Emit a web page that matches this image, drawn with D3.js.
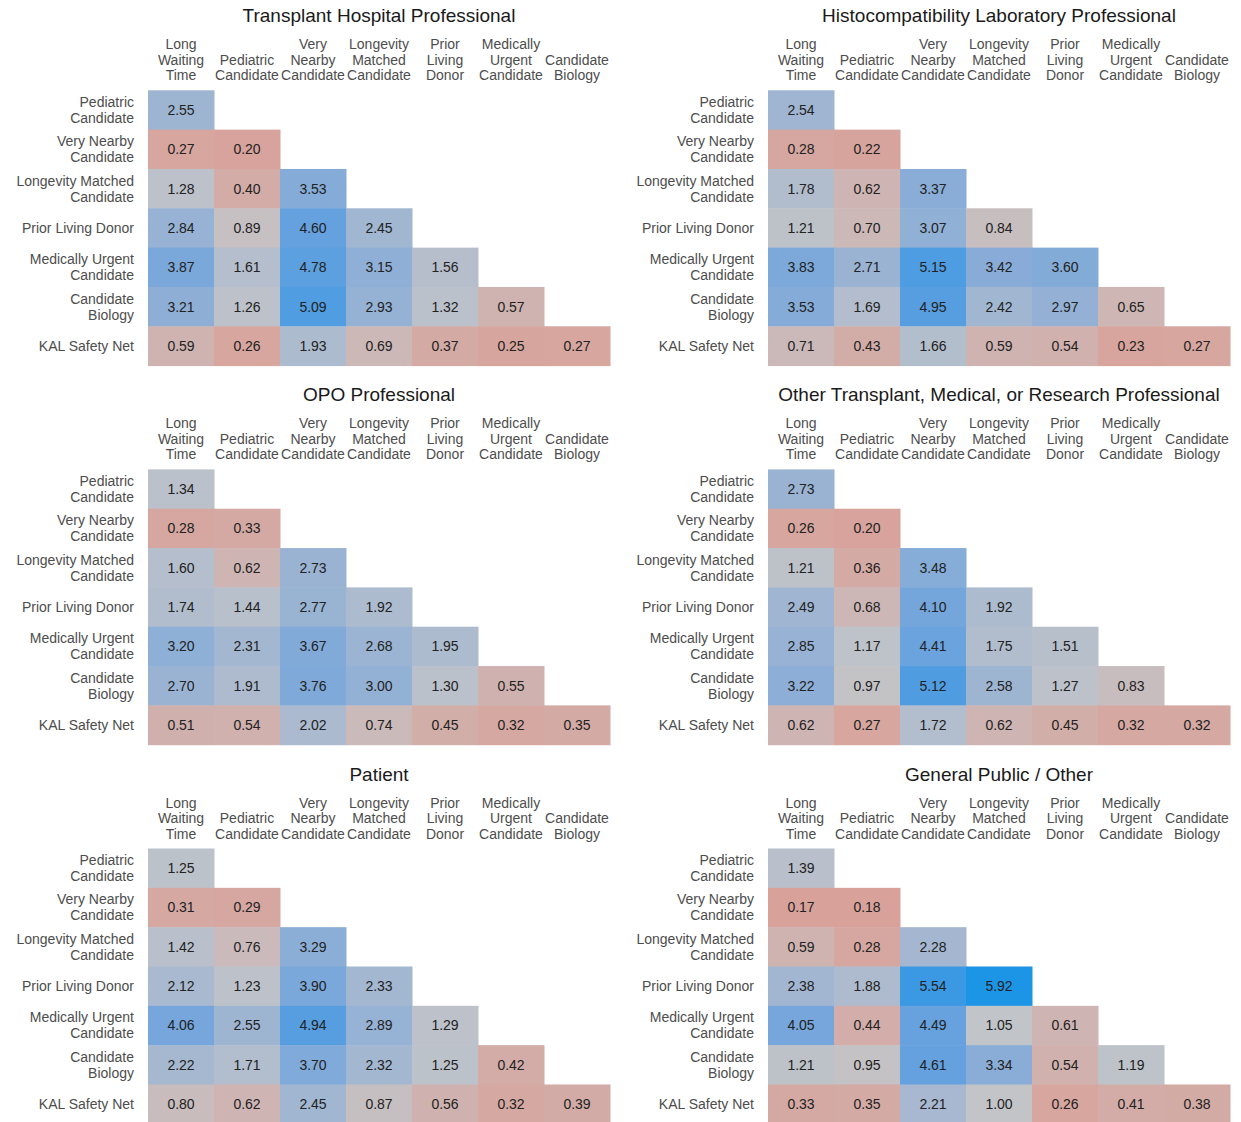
<!DOCTYPE html>
<html>
<head>
<meta charset="utf-8">
<script src="https://cdn.jsdelivr.net/npm/d3@7"></script>
<style>
  html, body { margin: 0; padding: 0; background: #ffffff; }
  svg { display: block; }
  text { font-family: "Liberation Sans", Arial, Helvetica, sans-serif; }
</style>
</head>
<body>
<svg id="chart" width="1241" height="1122"></svg>
<script>
// ---------- data ----------
const colLabels = [
  ["Long", "Waiting", "Time"],
  ["Pediatric", "Candidate"],
  ["Very", "Nearby", "Candidate"],
  ["Longevity", "Matched", "Candidate"],
  ["Prior", "Living", "Donor"],
  ["Medically", "Urgent", "Candidate"],
  ["Candidate", "Biology"]
];
const rowLabels = [
  ["Pediatric", "Candidate"],
  ["Very Nearby", "Candidate"],
  ["Longevity Matched", "Candidate"],
  ["Prior Living Donor"],
  ["Medically Urgent", "Candidate"],
  ["Candidate", "Biology"],
  ["KAL Safety Net"]
];
const panelTitles = [
  "Transplant Hospital Professional",
  "Histocompatibility Laboratory Professional",
  "OPO Professional",
  "Other Transplant, Medical, or Research Professional",
  "Patient",
  "General Public / Other"
];

const transplantHospital = [
  [2.55],
  [0.27, 0.20],
  [1.28, 0.40, 3.53],
  [2.84, 0.89, 4.60, 2.45],
  [3.87, 1.61, 4.78, 3.15, 1.56],
  [3.21, 1.26, 5.09, 2.93, 1.32, 0.57],
  [0.59, 0.26, 1.93, 0.69, 0.37, 0.25, 0.27]
];
const histocompatibility = [
  [2.54],
  [0.28, 0.22],
  [1.78, 0.62, 3.37],
  [1.21, 0.70, 3.07, 0.84],
  [3.83, 2.71, 5.15, 3.42, 3.60],
  [3.53, 1.69, 4.95, 2.42, 2.97, 0.65],
  [0.71, 0.43, 1.66, 0.59, 0.54, 0.23, 0.27]
];
const opoProfessional = [
  [1.34],
  [0.28, 0.33],
  [1.60, 0.62, 2.73],
  [1.74, 1.44, 2.77, 1.92],
  [3.20, 2.31, 3.67, 2.68, 1.95],
  [2.70, 1.91, 3.76, 3.00, 1.30, 0.55],
  [0.51, 0.54, 2.02, 0.74, 0.45, 0.32, 0.35]
];
const otherProfessional = [
  [2.73],
  [0.26, 0.20],
  [1.21, 0.36, 3.48],
  [2.49, 0.68, 4.10, 1.92],
  [2.85, 1.17, 4.41, 1.75, 1.51],
  [3.22, 0.97, 5.12, 2.58, 1.27, 0.83],
  [0.62, 0.27, 1.72, 0.62, 0.45, 0.32, 0.32]
];
const patient = [
  [1.25],
  [0.31, 0.29],
  [1.42, 0.76, 3.29],
  [2.12, 1.23, 3.90, 2.33],
  [4.06, 2.55, 4.94, 2.89, 1.29],
  [2.22, 1.71, 3.70, 2.32, 1.25, 0.42],
  [0.80, 0.62, 2.45, 0.87, 0.56, 0.32, 0.39]
];
const generalPublic = [
  [1.39],
  [0.17, 0.18],
  [0.59, 0.28, 2.28],
  [2.38, 1.88, 5.54, 5.92],
  [4.05, 0.44, 4.49, 1.05, 0.61],
  [1.21, 0.95, 4.61, 3.34, 0.54, 1.19],
  [0.33, 0.35, 2.21, 1.00, 0.26, 0.41, 0.38]
];
const panelData = [transplantHospital, histocompatibility, opoProfessional,
                   otherProfessional, patient, generalPublic];

// ---------- layout ----------
const svg = d3.select("#chart");
const cellW = 66, cellH = 39.33;
const gridW = cellW * 7, gridH = cellH * 7;
const panelX = [148, 768];
const panelY = [90.3, 469.4, 848.5];

const colKeys = colLabels.map(d => d.join(" "));
const rowKeys = rowLabels.map(d => d.join(" "));

const x = d3.scaleBand().domain(colKeys).range([0, gridW]).padding(0);
const y = d3.scaleBand().domain(rowKeys).range([0, gridH]).padding(0);

const color = d3.scaleLinear()
  .domain([0.17, 1, 5.92])
  .range(["#d8a29a", "#c2c4c8", "#1c95e6"])
  .interpolate(d3.interpolateLab)
  .clamp(true);

panelData.forEach((data, p) => {
  const g = svg.append("g")
    .attr("transform", `translate(${panelX[p % 2]},${panelY[Math.floor(p / 2)]})`);

  // title
  g.append("text")
    .attr("x", gridW / 2)
    .attr("y", -68)
    .attr("text-anchor", "middle")
    .attr("font-size", 19)
    .attr("fill", "#1a1a1a")
    .text(panelTitles[p]);

  // cells
  const cells = [];
  data.forEach((row, i) => row.forEach((v, j) => cells.push({ r: rowKeys[i], c: colKeys[j], v })));

  g.selectAll("rect.cell").data(cells).join("rect")
    .attr("class", "cell")
    .attr("x", d => x(d.c))
    .attr("y", d => y(d.r))
    .attr("width", x.bandwidth() + 0.5)
    .attr("height", y.bandwidth() + 0.5)
    .attr("fill", d => color(d.v));

  g.selectAll("text.val").data(cells).join("text")
    .attr("class", "val")
    .attr("x", d => x(d.c) + x.bandwidth() / 2)
    .attr("y", d => y(d.r) + y.bandwidth() / 2 + 5)
    .attr("text-anchor", "middle")
    .attr("font-size", 14)
    .attr("fill", "#222222")
    .text(d => d.v.toFixed(2));

  // column headers (bottom aligned)
  colLabels.forEach((lines, j) => {
    const t = g.append("text")
      .attr("text-anchor", "middle")
      .attr("font-size", 14)
      .attr("fill", "#4d4d4d");
    const n = lines.length;
    lines.forEach((ln, k) => {
      t.append("tspan")
        .attr("x", x(colKeys[j]) + x.bandwidth() / 2)
        .attr("y", -10 - (n - 1 - k) * 15.5)
        .text(ln);
    });
  });

  // row labels (right aligned, centered vertically)
  rowLabels.forEach((lines, i) => {
    const t = g.append("text")
      .attr("text-anchor", "end")
      .attr("font-size", 14)
      .attr("fill", "#4d4d4d");
    const n = lines.length;
    const cy = y(rowKeys[i]) + y.bandwidth() / 2;
    lines.forEach((ln, k) => {
      t.append("tspan")
        .attr("x", -14)
        .attr("y", cy + 5 + (k - (n - 1) / 2) * 16)
        .text(ln);
    });
  });
});
</script>
</body>
</html>
